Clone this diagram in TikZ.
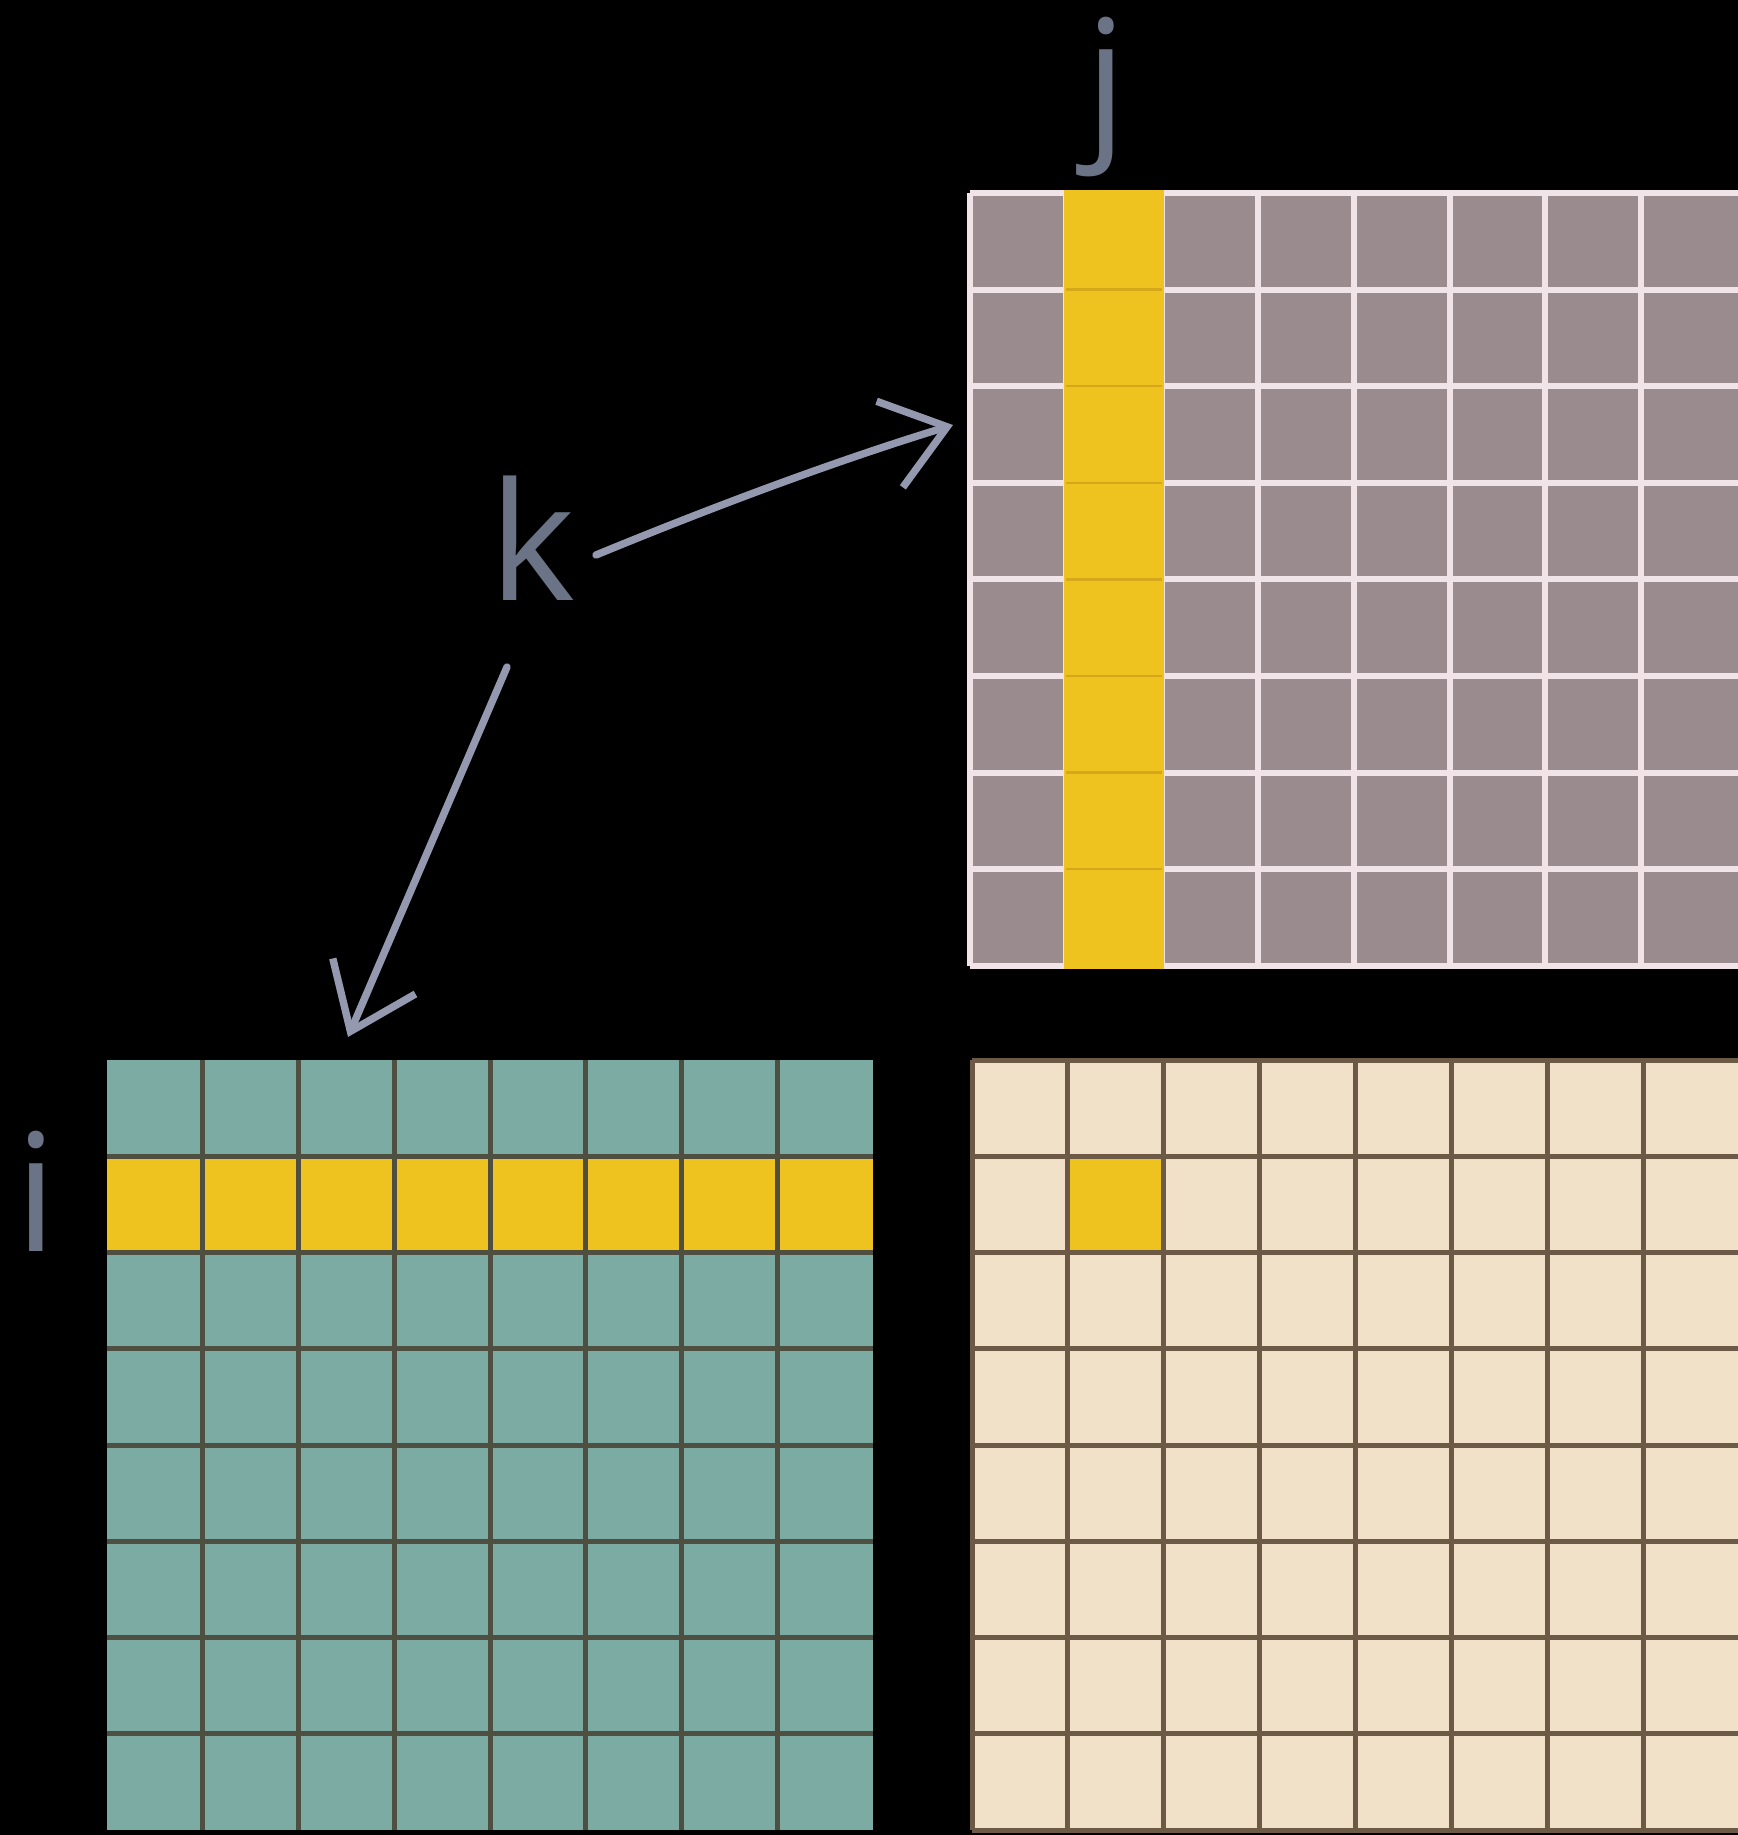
\documentclass[tikz,border=0pt]{standalone}
\usepackage{fontspec}
\setmainfont{Open Sans}
\usetikzlibrary{arrows.meta,calc}
\definecolor{graycell}{HTML}{9A8C8E}
\definecolor{graylin}{HTML}{F0E4E8}
\definecolor{yel}{HTML}{EEC21F}
\definecolor{yellin}{HTML}{D4A81A}
\definecolor{teal}{HTML}{7BABA3}
\definecolor{teallin}{HTML}{4E4F40}
\definecolor{beige}{HTML}{F2E1C9}
\definecolor{beigelin}{HTML}{6D5A46}
\definecolor{lbl}{HTML}{6B7486}
\definecolor{arr}{HTML}{9499AF}
\tikzset{
  lab/.style={text=lbl, inner sep=0pt, anchor=base, font=\fontsize{82pt}{82pt}\selectfont},
  wline/.style={draw=graylin, line width=3pt},
  tline/.style={draw=teallin, line width=2.5pt},
  bline/.style={draw=beigelin, line width=2.5pt},
  yline/.style={draw=yellin, line width=1.2pt},
  karrow/.style={draw=arr, line width=3.7pt, line cap=round,
    -{Straight Barb[length=30pt,width=45pt,line width=3.7pt]}}
}
\begin{document}
\begin{tikzpicture}[x=0.5pt,y=-0.5pt]
\useasboundingbox (0,0) rectangle (1737,1835);
\fill[black] (-10,-10) rectangle (1750,1845);

% ---- B (top right, gray with yellow column)
\fill[graycell] (970,193) rectangle (1745,966);
\foreach \c in {0,...,7} {\draw[wline] (970+\c*95.9,193) -- (970+\c*95.9,966);}
\foreach \r in {0,...,8} {\draw[wline] (970,193+\r*96.6) -- (1745,193+\r*96.6);}
\fill[yel] (1064,190) rectangle (1164,969);
\foreach \r in {1,...,7} {\draw[yline] (1066,193+\r*96.6) -- (1162,193+\r*96.6);}

% ---- A (bottom left, teal with yellow row)
\fill[teal] (107,1060) rectangle (873,1830);
\fill[yel] (107,1156.25) rectangle (873,1252.5);
\foreach \c in {1,...,7} {\draw[tline] (107+\c*95.75,1060) -- (107+\c*95.75,1830);}
\foreach \r in {1,...,7} {\draw[tline] (107,1060+\r*96.25) -- (873,1060+\r*96.25);}

% ---- C (bottom right, beige with yellow cell)
\fill[beige] (972,1060) rectangle (1745,1830);
\fill[yel] (1067.9,1156.25) rectangle (1163.8,1252.5);
\foreach \c in {0,...,7} {\draw[bline] (972+\c*95.9,1060) -- (972+\c*95.9,1830);}
\foreach \r in {0,...,8} {\draw[bline] (972,1060+\r*96.25) -- (1745,1060+\r*96.25);}

% ---- labels
\node[lab] (j) at (1106,138) {j};
\node[lab] (k) at (533,600) {k};
\node[lab] (i) at (36,1251) {i};

% ---- arrows
\coordinate (kr) at ($(k.base)+(63,-45)$);
\coordinate (kd) at ($(k.base)+(-26,67)$);
\coordinate (Bin) at (953,425);
\coordinate (Ain) at (348,1037);
\draw[karrow] (kr) .. controls (710,508) and (835,461) .. (Bin);
\draw[karrow] (kd) -- (Ain);
\end{tikzpicture}
\end{document}
